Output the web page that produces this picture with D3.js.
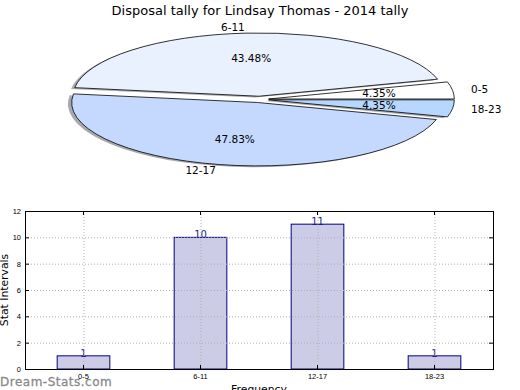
<!DOCTYPE html>
<html>
<head>
<meta charset="utf-8">
<script src="https://cdn.jsdelivr.net/npm/d3@7"></script>
<style>
  body { margin: 0; background: #fff; }
  svg { display: block; font-family: "DejaVu Sans", sans-serif; }
</style>
</head>
<body>
<div id="chart"></div>
<script>
const title = "Disposal tally for Lindsay Thomas - 2014 tally";
const categories = ["0-5", "6-11", "12-17", "18-23"];
const counts = [1, 10, 11, 1];
const sliceColors = ["#ffffff", "#eaf1fe", "#c5d9ff", "#b7d7ff"];
const yTicks = [0, 2, 4, 6, 8, 10, 12];

const width = 520;
const height = 390;

const svg = d3
  .select("#chart")
  .append("svg")
  .attr("width", width)
  .attr("height", height)
  .attr("viewBox", [0, 0, width, height]);

svg
  .append("text")
  .attr("x", 260)
  .attr("y", 15)
  .attr("text-anchor", "middle")
  .style("font-size", "13px")
  .text(title);

// --- pie: counter-clockwise from 3 o'clock, squashed into an ellipse ---
const pieBox = { cx: 259.4, cy: 99.4, rx: 185.7, ry: 63.2 };
const explode = 0.05;
const total = d3.sum(counts);

const slices = d3.pie().sort(null).value((d) => d)(counts);
const arc = d3.arc().innerRadius(0).outerRadius(1);
// d3 puts angle a at (sin a, -cos a); we want (cos t, -sin t) so a = PI/2 - t
const toArc = (s) => arc({ startAngle: Math.PI / 2 - s.endAngle, endAngle: Math.PI / 2 - s.startAngle });
const mid = (s) => (s.startAngle + s.endAngle) / 2;
const px = (s, r) => pieBox.cx + pieBox.rx * (explode + r) * Math.cos(mid(s));
const py = (s, r) => pieBox.cy - pieBox.ry * (explode + r) * Math.sin(mid(s));

const pie = svg.append("g");

// shadows sit below every wedge
pie
  .selectAll("path.shadow")
  .data(slices)
  .join("path")
  .attr("class", "shadow")
  .attr("d", toArc)
  .attr("transform", (s) => `translate(${px(s, 0) - 0.02 * pieBox.rx},${py(s, 0) + 0.02 * pieBox.ry}) scale(${pieBox.rx},${pieBox.ry})`)
  .attr("fill", (s, i) => {
    const c = d3.rgb(sliceColors[i]);
    return d3.rgb(c.r * 0.3, c.g * 0.3, c.b * 0.3);
  })
  .attr("opacity", 0.45);

pie
  .selectAll("path.wedge")
  .data(slices)
  .join("path")
  .attr("class", "wedge")
  .attr("d", toArc)
  .attr("transform", (s) => `translate(${px(s, 0)},${py(s, 0)}) scale(${pieBox.rx},${pieBox.ry})`)
  .attr("fill", (s, i) => sliceColors[i])
  .attr("stroke", "#000")
  .attr("stroke-width", 0.8)
  .attr("vector-effect", "non-scaling-stroke");

pie
  .selectAll("text.label")
  .data(slices)
  .join("text")
  .attr("class", "label")
  .attr("x", (s) => px(s, 1.1))
  .attr("y", (s) => py(s, 1.1))
  .attr("dy", "0.35em")
  .attr("text-anchor", (s) => (Math.cos(mid(s)) > 0 ? "start" : "end"))
  .style("font-size", "10.5px")
  .text((s, i) => categories[i]);

pie
  .selectAll("text.pct")
  .data(slices)
  .join("text")
  .attr("class", "pct")
  .attr("x", (s) => px(s, 0.6))
  .attr("y", (s) => py(s, 0.6))
  .attr("dy", "0.35em")
  .attr("text-anchor", "middle")
  .style("font-size", "10.5px")
  .text((s) => ((s.value / total) * 100).toFixed(2) + "%");

// --- bar chart ---
const plot = { left: 25, right: 493, top: 211, bottom: 369 };

const x = d3
  .scaleBand()
  .domain(categories)
  .range([plot.left, plot.right])
  .paddingInner(0.55)
  .paddingOuter(0.275);

const y = d3.scaleLinear().domain([0, 12]).range([plot.bottom, plot.top]);

const bars = svg.append("g");

bars
  .selectAll("rect")
  .data(counts)
  .join("rect")
  .attr("x", (d, i) => x(categories[i]))
  .attr("y", (d) => y(d))
  .attr("width", x.bandwidth())
  .attr("height", (d) => y(0) - y(d))
  .attr("fill", "#ccccE6")
  .attr("stroke", "#000080")
  .attr("stroke-width", 1);

// dotted grid drawn over the bars
const grid = svg
  .append("g")
  .attr("stroke", "#b0b0b0")
  .attr("stroke-width", 1)
  .attr("stroke-dasharray", "1,2");

grid
  .selectAll("line.h")
  .data(yTicks.slice(1, -1))
  .join("line")
  .attr("class", "h")
  .attr("x1", plot.left)
  .attr("x2", plot.right)
  .attr("y1", (d) => y(d) + 0.5)
  .attr("y2", (d) => y(d) + 0.5);

grid
  .selectAll("line.v")
  .data(categories)
  .join("line")
  .attr("class", "v")
  .attr("x1", (d) => x(d) + x.bandwidth() / 2 + 0.5)
  .attr("x2", (d) => x(d) + x.bandwidth() / 2 + 0.5)
  .attr("y1", plot.top)
  .attr("y2", plot.bottom);

bars
  .selectAll("text")
  .data(counts)
  .join("text")
  .attr("x", (d, i) => x(categories[i]) + x.bandwidth() / 2)
  .attr("y", (d) => y(d) + 1)
  .attr("text-anchor", "middle")
  .attr("fill", "#1a1a80")
  .style("font-size", "10px")
  .text((d) => d);

// axes with inward ticks on all four sides
const tickStyle = (g) => {
  g.select(".domain").remove();
  g.selectAll("line").attr("stroke", "#000");
  g.selectAll("text").style("font-size", "7.5px").attr("fill", "#000");
};

svg
  .append("g")
  .attr("transform", `translate(${plot.left},0)`)
  .call(d3.axisLeft(y).tickValues(yTicks).tickSizeInner(-4).tickSizeOuter(0).tickPadding(4))
  .call(tickStyle);

svg
  .append("g")
  .attr("transform", `translate(${plot.right},0)`)
  .call(d3.axisRight(y).tickValues(yTicks).tickSizeInner(-4).tickSizeOuter(0).tickFormat(""))
  .call(tickStyle);

svg
  .append("g")
  .attr("transform", `translate(0,${plot.bottom})`)
  .call(d3.axisBottom(x).tickSizeInner(-4).tickSizeOuter(0).tickPadding(5))
  .call(tickStyle);

svg
  .append("g")
  .attr("transform", `translate(0,${plot.top})`)
  .call(d3.axisTop(x).tickSizeInner(-4).tickSizeOuter(0).tickFormat(""))
  .call(tickStyle);

svg
  .append("rect")
  .attr("x", plot.left + 0.5)
  .attr("y", plot.top + 0.5)
  .attr("width", plot.right - plot.left)
  .attr("height", plot.bottom - plot.top)
  .attr("fill", "none")
  .attr("stroke", "#000")
  .attr("stroke-width", 1);

svg
  .append("text")
  .attr("transform", `translate(8,${(plot.top + plot.bottom) / 2}) rotate(-90)`)
  .attr("text-anchor", "middle")
  .style("font-size", "10.8px")
  .text("Stat Intervals");

svg
  .append("text")
  .attr("x", (plot.left + plot.right) / 2)
  .attr("y", 393)
  .attr("text-anchor", "middle")
  .style("font-size", "10.8px")
  .text("Frequency");

svg
  .append("text")
  .attr("x", 0)
  .attr("y", 385.5)
  .attr("fill", "#8a8a8a")
  .attr("stroke", "#8a8a8a")
  .attr("stroke-width", 0.3)
  .style("font-size", "12px")
  .style("letter-spacing", "0.5px")
  .text("Dream-Stats.com");
</script>
</body>
</html>
